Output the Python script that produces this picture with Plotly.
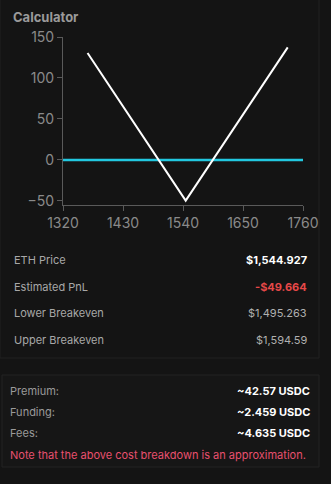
import plotly.graph_objects as go

# data
eth_price = [1365, 1544.927, 1732]
pnl = [130.4, -49.664, 137.4]
zero_x = [1320, 1760]
zero_y = [0, 0]
x_ticks = [1320, 1430, 1540, 1650, 1760]
y_ticks = [-50, 0, 50, 100, 150]

stats_labels = ["ETH Price", "Estimated PnL", "Lower Breakeven", "Upper Breakeven"]
stats_values = ["$1,544.927", "-$49.664", "$1,495.263", "$1,594.59"]
cost_labels = ["Premium:", "Funding:", "Fees:"]
cost_values = ["~42.57 USDC", "~2.459 USDC", "~4.635 USDC"]
note = "Note that the above cost breakdown is an approximation."

W, H = 331, 484
FONT = "Inter"

def px(x):
    return x / W

def py(y):
    return 1 - y / H

fig = go.Figure()
fig.add_trace(go.Scatter(x=zero_x, y=zero_y, mode="lines",
                         line=dict(color="#22c8e0", width=2.5), hoverinfo="skip"))
fig.add_trace(go.Scatter(x=eth_price, y=pnl, mode="lines",
                         line=dict(color="#ffffff", width=2), hoverinfo="skip"))

fig.update_layout(
    width=W, height=H,
    margin=dict(l=0, r=0, t=0, b=0, pad=0, autoexpand=False),
    paper_bgcolor="#141414",
    plot_bgcolor="rgba(0,0,0,0)",
    showlegend=False,
    font=dict(family=FONT),
    xaxis=dict(domain=[px(63), px(303)], range=[1320, 1760], tickvals=x_ticks,
               showgrid=False, zeroline=False, showline=True, linecolor="#5a5a5a",
               linewidth=1, ticks="outside", ticklen=5, tickcolor="#5a5a5a", automargin=False,
               tickfont=dict(color="#8a8a8a", size=14, family=FONT), anchor="y"),
    yaxis=dict(domain=[py(205), py(37)], range=[-55, 150], tickvals=y_ticks,
               showgrid=False, zeroline=False, showline=True, linecolor="#5a5a5a",
               linewidth=1, ticks="outside", ticklen=5, tickcolor="#5a5a5a", automargin=False,
               tickfont=dict(color="#8a8a8a", size=14, family=FONT), anchor="x"),
)

shapes = []
# first panel border
shapes.append(dict(type="rect", xref="paper", yref="paper", x0=px(0), x1=px(319),
                   y0=py(358), y1=py(-2), line=dict(color="#202020", width=1),
                   fillcolor="rgba(0,0,0,0)", layer="below"))
# second panel
shapes.append(dict(type="rect", xref="paper", yref="paper", x0=px(2), x1=px(319),
                   y0=py(467), y1=py(375), line=dict(color="#222222", width=1),
                   fillcolor="#161616", layer="below"))
fig.update_layout(shapes=shapes)

ann = []
ann.append(dict(text="<b>Calculator</b>", x=px(11), y=py(17), xref="paper", yref="paper",
                xanchor="left", yanchor="middle", showarrow=False,
                font=dict(size=13, color="#9a9a9a", family=FONT)))

stat_y = [260, 287, 313, 340]
value_colors = ["#ffffff", "#e64848", "#b0b0b0", "#b0b0b0"]
for lab, val, yy, col in zip(stats_labels, stats_values, stat_y, value_colors):
    ann.append(dict(text=lab, x=px(12), y=py(yy), xref="paper", yref="paper",
                    xanchor="left", yanchor="middle", showarrow=False,
                    font=dict(size=11, color="#a8a8a8", family=FONT)))
    vtxt = "<b>" + val + "</b>" if col != "#b0b0b0" else val
    ann.append(dict(text=vtxt, x=px(309), y=py(yy), xref="paper", yref="paper",
                    xanchor="right", yanchor="middle", showarrow=False,
                    font=dict(size=11, color=col, family=FONT)))

cost_y = [391, 412, 433]
for lab, val, yy in zip(cost_labels, cost_values, cost_y):
    ann.append(dict(text=lab, x=px(8), y=py(yy), xref="paper", yref="paper",
                    xanchor="left", yanchor="middle", showarrow=False,
                    font=dict(size=11, color="#9a9a9a", family=FONT)))
    ann.append(dict(text="<b>" + val + "</b>", x=px(312), y=py(yy), xref="paper", yref="paper",
                    xanchor="right", yanchor="middle", showarrow=False,
                    font=dict(size=11, color="#ffffff", family=FONT)))
ann.append(dict(text=note, x=px(8), y=py(455), xref="paper", yref="paper",
                xanchor="left", yanchor="middle", showarrow=False,
                font=dict(size=11, color="#e8506e", family=FONT)))
fig.update_layout(annotations=ann)

fig.write_html(
    "out.html",
    config={"displayModeBar": False},
    post_script="document.body.style.margin='0';document.body.style.overflow='hidden';document.body.style.background='#141414';",
)
